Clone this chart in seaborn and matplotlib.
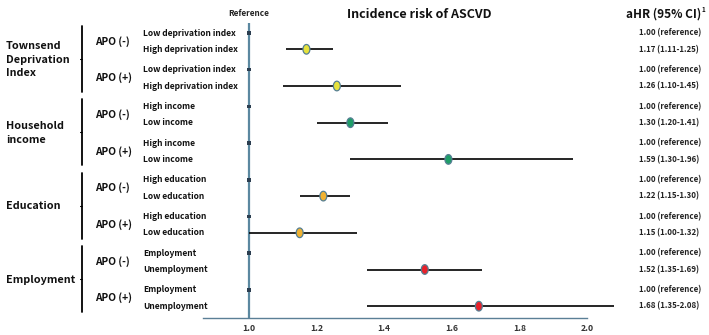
import matplotlib
matplotlib.use("Agg")
import matplotlib.pyplot as plt
import seaborn as sns
import numpy as np
import pandas as pd
from matplotlib.path import Path
from matplotlib.transforms import blended_transform_factory

# ---------------- data ----------------
groups = ["Townsend\nDeprivation\nIndex", "Household\nincome", "Education", "Employment"]
apo_labels = ["APO (-)", "APO (+)"]
ref_labels = ["Low deprivation index", "High income", "High education", "Employment"]
cmp_labels = ["High deprivation index", "Low income", "Low education", "Unemployment"]
hr = [1.17, 1.26, 1.30, 1.59, 1.22, 1.15, 1.52, 1.68]
ci_low = [1.11, 1.10, 1.20, 1.30, 1.15, 1.00, 1.35, 1.35]
ci_high = [1.25, 1.45, 1.41, 1.96, 1.30, 1.32, 1.69, 2.08]
hr_text = ["1.17 (1.11-1.25)", "1.26 (1.10-1.45)", "1.30 (1.20-1.41)", "1.59 (1.30-1.96)",
           "1.22 (1.15-1.30)", "1.15 (1.00-1.32)", "1.52 (1.35-1.69)", "1.68 (1.35-2.08)"]
ref_text = "1.00 (reference)"
xticks = [1.0, 1.2, 1.4, 1.6, 1.8, 2.0]
group_colors = ["#e6e23c", "#1f9e68", "#f0b232", "#e8222b"]

# ---------------- layout ----------------
W, H = 709, 335
sns.set_style("white")
plt.rcParams["font.family"] = ["Noto Sans CJK KR", "DejaVu Sans"]
fig = plt.figure(figsize=(W / 100, H / 100), dpi=100)

ax_left, ax_right, ax_top, ax_bot = 203, 587, 23, 318
ax = fig.add_axes([ax_left / W, (H - ax_bot) / H, (ax_right - ax_left) / W, (ax_bot - ax_top) / H])

within, between, start = 16.3, 20.4, 33
ref_y, cmp_y = [], []
y = start
for k in range(8):
    ref_y.append(y)
    cmp_y.append(y + within)
    y += within + between

ax.set_ylim(ax_bot, ax_top)
ax.set_xlim(0.864, 2.0)

ax.axvline(1.0, color="#5b88a0", lw=1.6, zorder=1)

df = pd.DataFrame({
    "hr": hr, "lo": ci_low, "hi": ci_high, "y": cmp_y,
    "group": [g for g in groups for _ in range(2)],
})
dref = pd.DataFrame({"hr": [1.0] * 8, "y": ref_y})

ax.hlines(df["y"], df["lo"], df["hi"], color="black", lw=1.2, zorder=2, clip_on=False)

t = np.linspace(0, 2 * np.pi, 60)
ell = Path(np.column_stack([0.72 * np.cos(t), np.sin(t)]), closed=True)
sns.scatterplot(data=df, x="hr", y="y", hue="group", palette=group_colors, marker=ell,
                s=48, edgecolor="#557f93", linewidth=0.9, ax=ax, legend=False, zorder=3)
sns.scatterplot(data=dref, x="hr", y="y", marker="s", s=6, color="#2c3e50",
                edgecolor="none", ax=ax, legend=False, zorder=3)

for s in ["left", "top", "right"]:
    ax.spines[s].set_visible(False)
ax.spines["bottom"].set_color("#5b7f96")
ax.spines["bottom"].set_linewidth(1.0)
ax.set_xticks(xticks)
ax.set_xticklabels([f"{v:.1f}" for v in xticks], fontsize=6.2, fontweight="bold", color="#333333")
ax.tick_params(axis="x", length=0, pad=4)
ax.set_yticks([])
ax.set_xlabel("")
ax.set_ylabel("")

tr = blended_transform_factory(fig.transFigure, ax.transData)

def fx(px):
    return px / W

fig.text(fx(249), 1 - 13 / H, "Reference", ha="center", va="center", fontsize=5.9,
         fontweight="bold", color="#222222")
fig.text(fx(419), 1 - 14 / H, "Incidence risk of ASCVD", ha="center", va="center",
         fontsize=9, fontweight="bold", color="#111111")
fig.text(fx(664), 1 - 14 / H, "aHR (95% CI)", ha="center", va="center",
         fontsize=8.5, fontweight="bold", color="#111111")
fig.text(fx(701), 1 - 10 / H, "1", ha="left", va="center",
         fontsize=4.5, fontweight="bold", color="#111111")

for gi, g in enumerate(groups):
    y0 = ref_y[2 * gi] - 7
    y1 = cmp_y[2 * gi + 1] + 6
    ax.plot([fx(82), fx(82)], [y0, y1], transform=tr, color="black", lw=1.3, clip_on=False)
    ym = (y0 + y1) / 2
    ax.plot([fx(80), fx(82)], [ym, ym], transform=tr, color="black", lw=0.8, clip_on=False)
    ax.text(fx(6), (ref_y[2 * gi] + cmp_y[2 * gi + 1]) / 2, g, transform=tr, ha="left",
            va="center", fontsize=7.8, fontweight="bold", color="#111111", linespacing=1.4)
    for j in range(2):
        k = 2 * gi + j
        ax.text(fx(95), (ref_y[k] + cmp_y[k]) / 2, apo_labels[j], transform=tr, ha="left",
                va="center", fontsize=7.3, fontweight="bold", color="#111111")
        ax.text(fx(143), ref_y[k], ref_labels[gi], transform=tr, ha="left", va="center",
                fontsize=6.1, fontweight="bold", color="#111111")
        ax.text(fx(143), cmp_y[k], cmp_labels[gi], transform=tr, ha="left", va="center",
                fontsize=6.1, fontweight="bold", color="#111111")
        ax.text(fx(639), ref_y[k], ref_text, transform=tr, ha="left", va="center",
                fontsize=5.7, fontweight="bold", color="#222222")
        ax.text(fx(639), cmp_y[k], hr_text[k], transform=tr, ha="left", va="center",
                fontsize=5.7, fontweight="bold", color="#222222")

fig.savefig("out.png", dpi=100)
